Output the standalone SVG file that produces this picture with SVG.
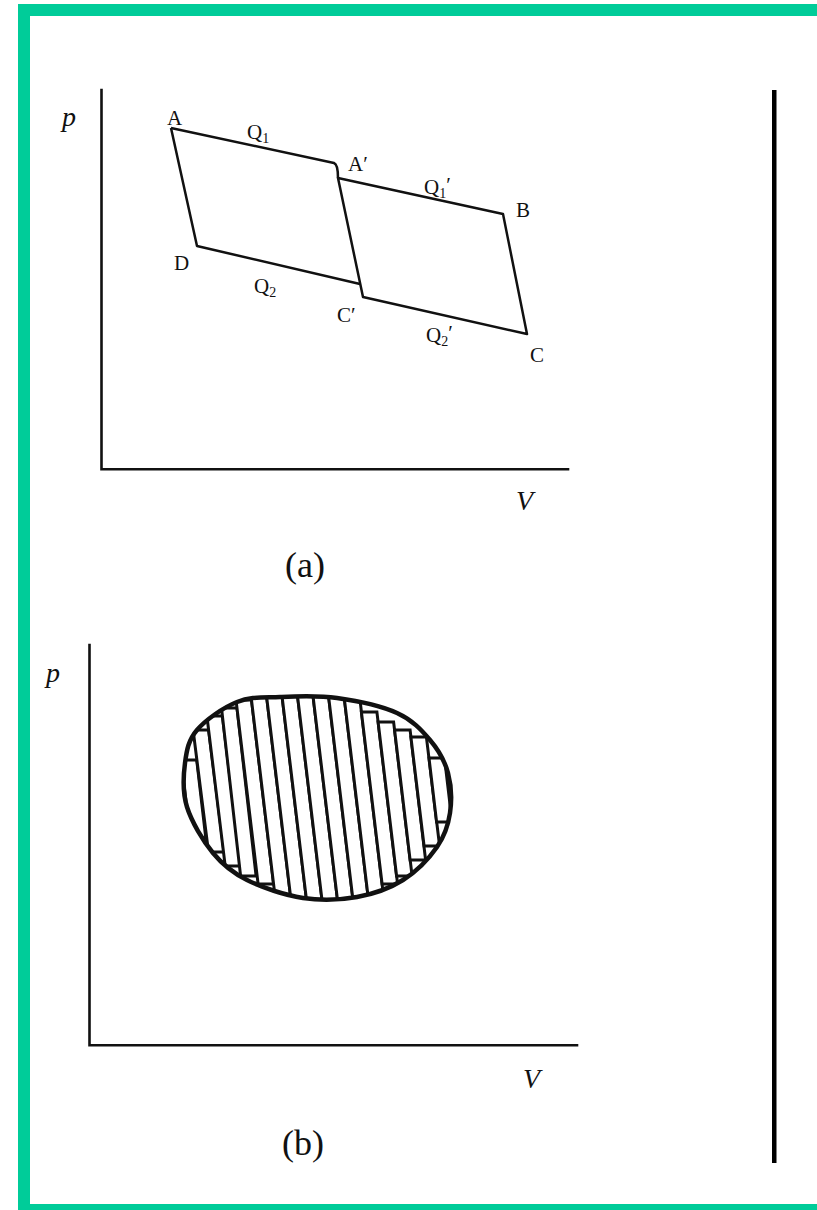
<svg xmlns="http://www.w3.org/2000/svg" width="817" height="1210" viewBox="0 0 817 1210">
<style>
.frame{fill:#00cc99}
.ax{fill:none;stroke:#111;stroke-width:2.6;stroke-linecap:square}
.ln{fill:none;stroke:#111;stroke-width:2.5;stroke-linejoin:round}
.lbl{font-family:"Liberation Serif","Times New Roman",serif;font-size:21px;fill:#111}
.var{font-family:"Liberation Serif","Times New Roman",serif;font-size:28px;font-style:italic;fill:#111}
.cap{font-family:"Liberation Serif","Times New Roman",serif;font-size:36px;fill:#111;text-anchor:middle}
.bar{fill:#fff;stroke:#111;stroke-width:3;stroke-linejoin:miter}
.blob{fill:none;stroke:#111;stroke-width:4.5}
</style>
<defs>
<path id="blobPath" d="M280,697 C296.7,696.3 317.5,695.3 337,698 C356.5,700.7 381.5,706 397,713 C412.5,720 421.5,730 430,740 C438.5,750 444.7,760.8 448,773 C451.3,785.2 451.8,800.7 450,813 C448.2,825.3 444.8,835.8 437,847 C429.2,858.2 416.3,871.7 403,880 C389.7,888.3 373.7,894 357,897 C340.3,900 321.3,900.8 303,898 C284.7,895.2 262,887.5 247,880 C232,872.5 223,865.2 213,853 C203,840.8 191.7,822 187,807 C182.3,792 183.3,775.8 185,763 C186.7,750.2 188.3,740.2 197,730 C205.7,719.8 223.2,707.5 237,702 C250.8,696.5 263.3,697.7 280,697 Z"/>
<clipPath id="blobClip"><use href="#blobPath"/></clipPath>
</defs>
<rect width="817" height="1210" fill="#fff"/>
<g id="frame">
<rect class="frame" x="18" y="4" width="799" height="12"/>
<rect class="frame" x="18" y="4" width="12" height="1206"/>
<rect class="frame" x="18" y="1204" width="799" height="6"/>
<rect x="772" y="90" width="4.5" height="1073" fill="#000"/>
</g>
<g id="diagram-a">
<g id="axes-a">
<path class="ax" d="M101.5,90 L101.5,469.3 L568,469.3"/>
<text class="var" x="62" y="126">p</text>
<text class="var" x="516" y="510">V</text>
</g>
<g id="cycle-ADC">
<path class="ln" d="M171,128 L334,163 Q338,164.5 338,178"/>
<path class="ln" d="M171,128 L197,246 L360,284"/>
</g>
<g id="cycle-ABC">
<path class="ln" d="M338,178 L503,214 L527,334 L363,297 Z"/>
</g>
<g id="labels-a">
<text class="lbl" x="167" y="125">A</text>
<text class="lbl" x="247" y="139">Q<tspan font-size="14" dy="4">1</tspan></text>
<text class="lbl" x="348" y="171">A′</text>
<text class="lbl" x="174" y="270">D</text>
<text class="lbl" x="254" y="293">Q<tspan font-size="14" dy="4">2</tspan></text>
<text class="lbl" x="424" y="194">Q<tspan font-size="14" dy="4">1</tspan><tspan dy="-6">′</tspan></text>
<text class="lbl" x="516" y="217">B</text>
<text class="lbl" x="337" y="322">C′</text>
<text class="lbl" x="426" y="342">Q<tspan font-size="14" dy="4">2</tspan><tspan dy="-6">′</tspan></text>
<text class="lbl" x="530" y="362">C</text>
</g>
<text class="cap" x="305" y="577">(a)</text>
</g>
<g id="diagram-b">
<g id="axes-b">
<path class="ax" d="M89.5,645 L89.5,1045.3 L577,1045.3"/>
<text class="var" x="46" y="682">p</text>
<text class="var" x="523" y="1088">V</text>
</g>
<g id="hatching" clip-path="url(#blobClip)">
<polygon class="bar" points="181.2,760 196.7,760 205.8,838 190.3,838"/>
<polygon class="bar" points="193.1,730 208.6,730 224,852 208.5,852"/>
<polygon class="bar" points="206.9,716 222.4,716 240.7,866 225.2,866"/>
<polygon class="bar" points="221.5,708 237,708 256.1,876 240.6,876"/>
<polygon class="bar" points="236,700 251.5,700 273.6,884 258.1,884"/>
<polygon class="bar" points="250.3,690 265.8,690 292.2,910 276.7,910"/>
<polygon class="bar" points="265.8,690 281.3,690 307.7,910 292.2,910"/>
<polygon class="bar" points="281.3,690 296.8,690 323.2,910 307.7,910"/>
<polygon class="bar" points="296.8,690 312.3,690 338.7,910 323.2,910"/>
<polygon class="bar" points="312.3,690 327.8,690 354.2,910 338.7,910"/>
<polygon class="bar" points="327.8,690 343.3,690 369.7,910 354.2,910"/>
<polygon class="bar" points="343.3,690 358.8,690 385.2,910 369.7,910"/>
<polygon class="bar" points="361.4,712 376.9,712 397.6,884 382.1,884"/>
<polygon class="bar" points="378.1,722 393.6,722 412.1,876 396.6,876"/>
<polygon class="bar" points="394.6,730 410.1,730 425.6,860 410.1,860"/>
<polygon class="bar" points="410.9,737 426.4,737 439.6,846 424.1,846"/>
<polygon class="bar" points="429,758 444.5,758 452.1,822 436.6,822"/>
</g>
<g id="cycle-outline">
<use href="#blobPath" class="blob"/>
</g>
<text class="cap" x="303" y="1155">(b)</text>
</g>
</svg>
